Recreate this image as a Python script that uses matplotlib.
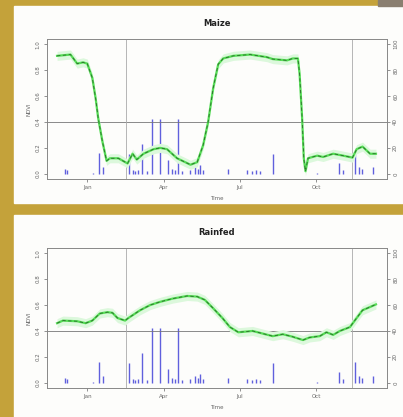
import matplotlib
matplotlib.use("Agg")
import matplotlib.pyplot as plt
from matplotlib.patches import Rectangle
import numpy as np

# x = day offset from 1 Jan
month_ticks = [0, 91, 182, 273]
month_labels = ["Jan", "Apr", "Jul", "Oct"]
season_marks = [46, 315]
ndvi_ticks = [0.0, 0.2, 0.4, 0.6, 0.8, 1.0]
rain_ticks = [0, 20, 40, 60, 80, 100]

maize_day = [-36, -20, -12, -5, 0, 6, 10, 13, 18, 23, 27, 37, 48, 54, 59, 67, 79, 87, 95,
             107, 123, 131, 138, 144, 150, 156, 162, 174, 194, 214, 221, 238, 245, 251,
             253, 256, 258, 260, 263, 274, 281, 293, 305, 316, 321, 328, 337, 344]
maize_ndvi = [0.91, 0.92, 0.85, 0.86, 0.85, 0.74, 0.58, 0.43, 0.25, 0.10, 0.12, 0.12, 0.08,
              0.155, 0.11, 0.155, 0.19, 0.20, 0.19, 0.12, 0.07, 0.09, 0.22, 0.40, 0.66,
              0.845, 0.89, 0.91, 0.92, 0.90, 0.885, 0.875, 0.89, 0.89, 0.77, 0.43, 0.12,
              0.02, 0.12, 0.14, 0.13, 0.155, 0.14, 0.125, 0.19, 0.21, 0.155, 0.155]

rainfed_day = [-36, -29, -12, -2, 6, 15, 24, 30, 36, 45, 49, 63, 75, 87, 102, 119, 131, 140,
               150, 161, 170, 180, 197, 209, 221, 233, 245, 257, 265, 277, 285, 293, 301,
               313, 321, 328, 337, 344]
rainfed_ndvi = [0.46, 0.48, 0.475, 0.46, 0.48, 0.535, 0.545, 0.54, 0.50, 0.48, 0.50, 0.56,
                0.60, 0.625, 0.65, 0.67, 0.665, 0.64, 0.575, 0.50, 0.43, 0.39, 0.40, 0.38,
                0.36, 0.375, 0.355, 0.33, 0.35, 0.36, 0.39, 0.37, 0.40, 0.43, 0.50, 0.56,
                0.585, 0.605]

rain_day = [-27, -24, 7, 14, 19, 50, 54, 57, 61, 65, 71, 77, 87, 96, 101, 105, 108, 113,
            122, 128, 132, 134, 138, 168, 190, 196, 201, 206, 221, 274, 300, 305, 319,
            324, 327, 340]
rain_mm = [4, 3, 1, 16, 5, 15, 3, 2, 3, 23, 2, 42, 42, 11, 4, 3, 42, 2, 3, 5, 4, 7, 3, 4, 3,
           2, 3, 2, 15, 1, 8, 3, 16, 5, 4, 5]

panels = [("Maize", maize_day, maize_ndvi, 0.5707),
          ("Rainfed", rainfed_day, rainfed_ndvi, 0.0695)]

fig = plt.figure(figsize=(4.03, 4.17), dpi=100)
fig.patch.set_facecolor("#c4a23a")
# white slides on the gold background
fig.add_artist(Rectangle((14 / 403, 1 - 203 / 417), 1, 197 / 417,
                         transform=fig.transFigure, color="#fdfdfb", zorder=0))
fig.add_artist(Rectangle((14 / 403, 0), 1, 202 / 417,
                         transform=fig.transFigure, color="#fdfdfb", zorder=0))
fig.add_artist(Rectangle((378 / 403, 1 - 6 / 417), 25 / 403, 6 / 417,
                         transform=fig.transFigure, color="#8a7f70", zorder=0))

txt = "#666666"
for title, day, ndvi, bottom in panels:
    ax = fig.add_axes([0.1166, bottom, 0.8434, 0.3358])
    ax.set_xlim(-48, 357)
    ax.set_ylim(-0.04, 1.04)
    ax2 = ax.twinx()
    ax2.set_ylim(-4, 104)

    ax2.vlines(rain_day, 0, rain_mm, color="#6060dd", lw=1.0)
    ax.axhline(0.4, color="#777777", lw=0.6)
    for d in season_marks:
        ax.axvline(d, color="#aaaaaa", lw=0.6)

    ndvi = np.array(ndvi)
    ax.fill_between(day, ndvi - 0.035, ndvi + 0.035, color="#dcf8dc", lw=0, zorder=2)
    ax.plot(day, ndvi, color="#55dd55", lw=1.6, zorder=3)
    ax.plot(day, ndvi, color="#2a6a2a", lw=0.6, ls=(0, (4, 3)), zorder=4)
    ax.set_zorder(ax2.get_zorder() + 1)
    ax.patch.set_visible(False)
    ax2.patch.set_facecolor("white")

    ax.set_xticks(month_ticks)
    ax.set_xticklabels(month_labels)
    ax.set_yticks(ndvi_ticks)
    ax.set_yticklabels([f"{v:.1f}" for v in ndvi_ticks], rotation=90, va="center")
    ax2.set_yticks(rain_ticks)
    ax2.set_yticklabels([str(v) for v in rain_ticks], rotation=90, va="center")
    for a in (ax, ax2):
        a.tick_params(labelsize=4, colors=txt, length=2.5, width=0.5, pad=2)
        for s in a.spines.values():
            s.set_color("#888888")
            s.set_linewidth(0.6)
    ax.set_ylabel("NDVI", fontsize=4, color=txt, labelpad=3)
    ax.set_xlabel("Time", fontsize=4, color=txt, labelpad=4)
    ax.set_title(title, fontsize=6, fontweight="bold", color="#222222", pad=9)

fig.savefig("out.png", dpi=100, facecolor=fig.get_facecolor())
